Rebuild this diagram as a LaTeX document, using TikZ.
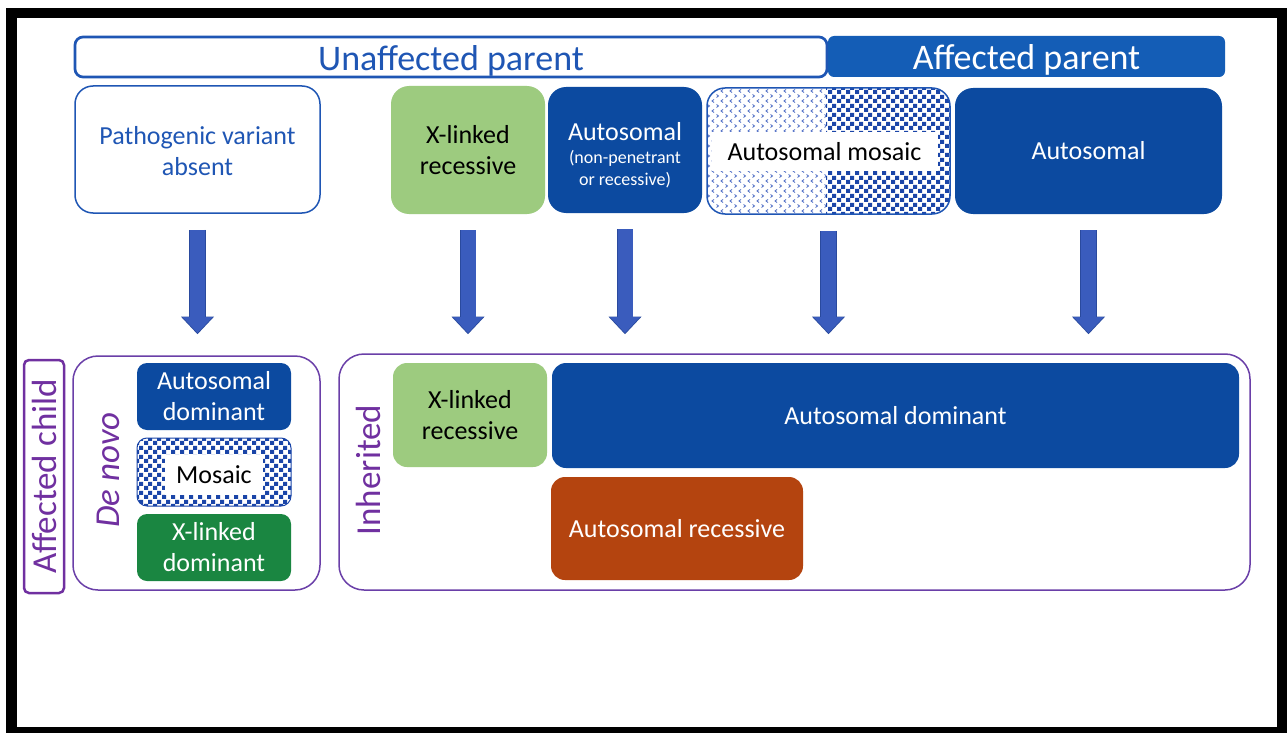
\documentclass[tikz,border=0pt]{standalone}
\usepackage{fontspec}
\setmainfont{Carlito}
\usetikzlibrary{arrows.meta,patterns}
\definecolor{hdrblue}{HTML}{1F56B4}
\definecolor{affblue}{HTML}{145DB6}
\definecolor{dkblue}{HTML}{0C4AA0}
\definecolor{ltgreen}{HTML}{9DCB7F}
\definecolor{dkgreen}{HTML}{1A8641}
\definecolor{rust}{HTML}{B4440F}
\definecolor{ptext}{HTML}{7030A0}
\definecolor{pline}{HTML}{6A3FA8}
\definecolor{arrfill}{HTML}{3A5CBD}
\definecolor{arrline}{HTML}{2A4A9E}
\definecolor{chkblue}{HTML}{1A45A8}
\definecolor{chevblue}{HTML}{4A6AC4}
\pgfdeclarepatternformonly{bigcheck}{\pgfpointorigin}{\pgfqpoint{9pt}{9pt}}{\pgfqpoint{9pt}{9pt}}{%
  \pgfpathrectangle{\pgfpointorigin}{\pgfqpoint{4.5pt}{4.5pt}}%
  \pgfpathrectangle{\pgfqpoint{4.5pt}{4.5pt}}{\pgfqpoint{4.5pt}{4.5pt}}%
  \pgfusepath{fill}}
\pgfdeclarepatternformonly{chev}{\pgfqpoint{-1pt}{-1pt}}{\pgfqpoint{10pt}{11pt}}{\pgfqpoint{9pt}{10pt}}{%
  \pgfsetlinewidth{0.8pt}%
  \pgfpathmoveto{\pgfqpoint{3pt}{0.5pt}}\pgfpathlineto{\pgfqpoint{1pt}{2pt}}\pgfpathlineto{\pgfqpoint{3pt}{3.5pt}}%
  \pgfpathmoveto{\pgfqpoint{5.5pt}{5.5pt}}\pgfpathlineto{\pgfqpoint{7.5pt}{7pt}}\pgfpathlineto{\pgfqpoint{5.5pt}{8.5pt}}%
  \pgfusepath{stroke}}
\newcommand\fBx{\fontsize{26}{31}\selectfont}
\newcommand\fHd{\fontsize{36}{40}\selectfont}
\newcommand\fSd{\fontsize{35}{40}\selectfont}
\newcommand\fSm{\fontsize{18}{22}\selectfont}
\newcommand\dn[2]{\raisebox{-#1}[\height][\depth]{#2}}
\begin{document}
\begin{tikzpicture}[x=1pt,y=-1pt,
  box/.style={rectangle, inner sep=0pt, align=center, font=\fBx, rounded corners=18pt},
  outl/.style={draw=pline, line width=1.5pt},
  barrow/.style={draw=arrfill, line width=15pt, -{Triangle[width=30pt,length=16pt,line width=0pt]},
    preaction={draw=arrline, line width=16.6pt, shorten >=-1.2pt, -{Triangle[width=33pt,length=17.5pt,line width=0pt]}}}
]
\useasboundingbox (0,0) rectangle (1287,733);
\fill[black] (6,8) rectangle (1287,733);
\fill[white] (17,18) rectangle (1277,727);

% headers
\node[box, rounded corners=8pt, draw=hdrblue, line width=2.7pt, minimum width=752pt, minimum height=40pt,
  text=hdrblue, font=\fHd] (unaff) at (451,57) {\dn{3.5pt}{Unaffected parent}};
\node[box, rounded corners=6pt, fill=affblue, minimum width=397pt, minimum height=41pt,
  text=white, font=\fHd] (aff) at (1026.5,56.5) {\dn{3pt}{Affected parent}};

% top boxes
\node[box, draw=hdrblue, line width=1.5pt, minimum width=245pt, minimum height=127pt, text=hdrblue]
  (pva) at (197.5,149.5) {\dn{1.5pt}{Pathogenic variant}\\\dn{1.5pt}{absent}};
\node[box, fill=ltgreen, minimum width=154pt, minimum height=128pt, text=black]
  (xlr) at (468,150) {X-linked\\recessive};
\node[box, fill=dkblue, minimum width=154pt, minimum height=126pt, text=white]
  (aut) at (625,150) {\dn{5pt}{Autosomal}\\[-8pt]{\fSm\dn{5pt}{(non-penetrant}}\\[-9pt]{\fSm\dn{5pt}{or recessive)}}};
\begin{scope}
  \clip[rounded corners=18pt] (707,88) rectangle (950,214);
  \fill[white] (707,88) rectangle (950,214);
  \fill[pattern=chev, pattern color=chevblue] (707,88) rectangle (826,214);
  \fill[pattern=bigcheck, pattern color=chkblue] (826,88) rectangle (950,214);
\end{scope}
\node[box, draw=hdrblue, line width=1.5pt, minimum width=243pt, minimum height=126pt] (amos) at (828.5,151) {};
\node[rectangle, fill=white, inner sep=0pt, minimum width=226pt, minimum height=39pt, font=\fBx]
  (amost) at (824.5,151.5) {Autosomal mosaic};
\node[box, fill=dkblue, minimum width=267pt, minimum height=126pt, text=white]
  (aut2) at (1088.5,151) {Autosomal};

% arrows
\coordinate (lvl) at (0,333);
\draw[barrow] ([yshift=-16pt]pva.south) -- (pva.south |- lvl);
\draw[barrow] ([yshift=-16pt]xlr.south) -- (xlr.south |- lvl);
\draw[barrow] ([yshift=-16pt]aut.south) -- (aut.south |- lvl);
\draw[barrow] ([yshift=-16pt]amos.south) -- (amos.south |- lvl);
\draw[barrow] ([yshift=-16pt]aut2.south) -- (aut2.south |- lvl);

% bottom: affected child
\node[box, rounded corners=5pt, draw=ptext, line width=2.5pt, rotate=90, minimum width=233pt, minimum height=40pt,
  text=ptext, font=\fSd] (ac) at (44,476.5) {Affected child};

% de novo
\node[box, outl, rounded corners=25pt, minimum width=247pt, minimum height=234pt] (dn) at (196.5,473) {};
\node[rotate=90, text=ptext, font=\fSd\itshape, inner sep=0pt] (dnt) at (108,470) {De novo};
\node[box, rounded corners=10pt, fill=dkblue, text=white, minimum width=154pt, minimum height=67pt]
  (ad) at (214,396.5) {Autosomal\\dominant};
\begin{scope}
  \clip[rounded corners=10pt] (137,438) rectangle (291,506);
  \fill[white] (137,438) rectangle (291,506);
  \fill[pattern=bigcheck, pattern color=chkblue] (137,438) rectangle (291,506);
\end{scope}
\node[box, rounded corners=10pt, draw=chkblue, line width=1pt, minimum width=154pt, minimum height=68pt] (mos) at (214,472) {};
\node[rectangle, fill=white, inner sep=0pt, minimum width=98pt, minimum height=40pt, font=\fBx]
  (most) at (214,475) {Mosaic};
\node[box, rounded corners=10pt, fill=dkgreen, text=white, minimum width=154pt, minimum height=67pt]
  (xld) at (214,547.5) {X-linked\\dominant};

% inherited
\node[box, outl, rounded corners=25pt, minimum width=911pt, minimum height=236pt] (inh) at (794.5,472) {};
\node[rotate=90, text=ptext, font=\fSd, inner sep=0pt] (inht) at (368,470) {Inherited};
\node[box, rounded corners=14pt, fill=ltgreen, text=black, minimum width=154pt, minimum height=104pt]
  (xlr2) at (470,415) {X-linked\\recessive};
\node[box, rounded corners=14pt, fill=dkblue, text=white, minimum width=687pt, minimum height=105pt]
  (adb) at (895.5,415.5) {Autosomal dominant};
\node[box, rounded corners=14pt, fill=rust, text=white, minimum width=252pt, minimum height=103pt]
  (ar) at (677,528.5) {Autosomal recessive};
\end{tikzpicture}
\end{document}
